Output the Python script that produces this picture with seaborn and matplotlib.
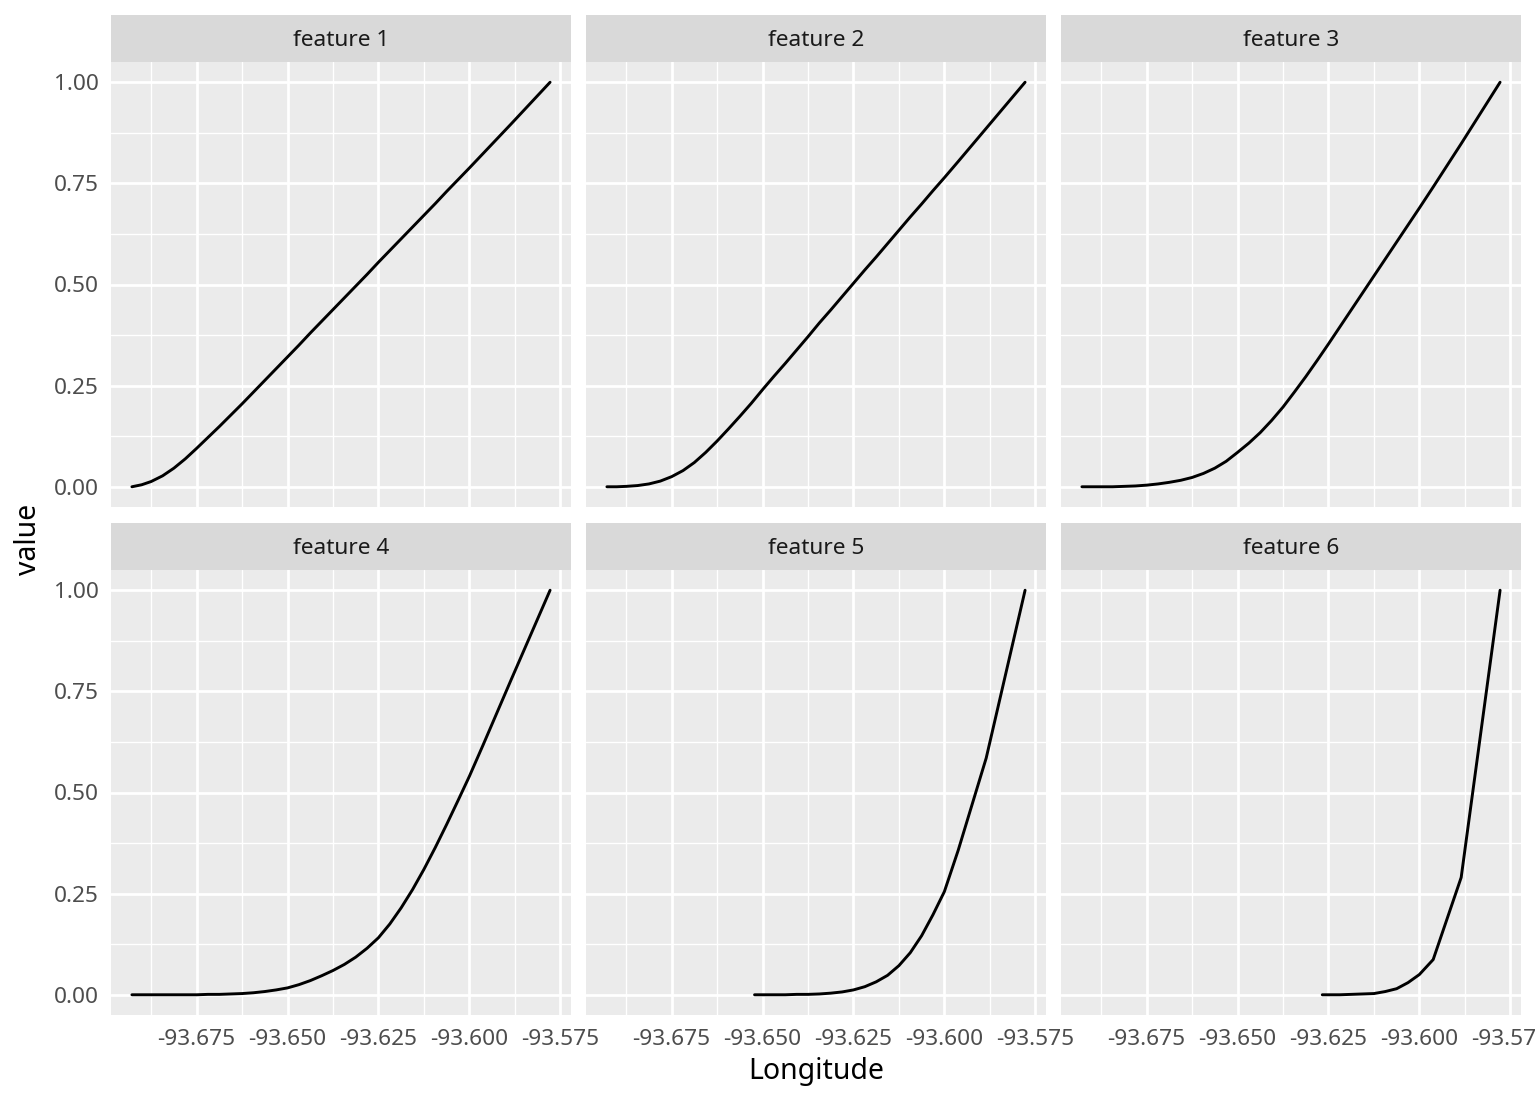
import pandas as pd
import seaborn as sns
import matplotlib
matplotlib.use("Agg")
import matplotlib.pyplot as plt
from matplotlib.patches import Rectangle

lon_main = [-93.6928, -93.6901, -93.6875, -93.684375, -93.68125, -93.678125, -93.675,
            -93.671875, -93.66875, -93.665625, -93.6625, -93.659375, -93.65625,
            -93.653125, -93.65, -93.646875, -93.64375, -93.640625, -93.6375,
            -93.634375, -93.63125, -93.628125, -93.625, -93.621875, -93.61875,
            -93.615625, -93.6125, -93.609375, -93.60625, -93.603125, -93.6,
            -93.5962, -93.5885, -93.5778]
lon_f5 = [-93.6522, -93.65, -93.646875, -93.64375, -93.640625, -93.6375,
          -93.634375, -93.63125, -93.628125, -93.625, -93.621875, -93.61875,
          -93.615625, -93.6125, -93.609375, -93.60625, -93.603125, -93.6,
          -93.5962, -93.5885, -93.5778]
lon_f6 = [-93.6267, -93.625, -93.621875, -93.61875, -93.615625, -93.6125,
          -93.609375, -93.60625, -93.603125, -93.6, -93.5962, -93.5885, -93.5778]

feature1 = [0, 0.005, 0.013, 0.027, 0.046, 0.069, 0.095, 0.122, 0.149, 0.177, 0.205,
            0.234, 0.263, 0.292, 0.321, 0.350, 0.380, 0.409, 0.438, 0.467, 0.496,
            0.525, 0.555, 0.584, 0.613, 0.642, 0.671, 0.700, 0.730, 0.759, 0.788,
            0.824, 0.897, 1.0]
feature2 = [0, 0.000, 0.001, 0.003, 0.007, 0.014, 0.025, 0.040, 0.060, 0.085, 0.113,
            0.143, 0.174, 0.206, 0.240, 0.273, 0.305, 0.338, 0.371, 0.405, 0.437,
            0.470, 0.503, 0.536, 0.568, 0.601, 0.634, 0.667, 0.699, 0.732, 0.764,
            0.804, 0.886, 1.0]
feature3 = [0, 0.000, 0.000, 0.000, 0.001, 0.002, 0.004, 0.007, 0.011, 0.016, 0.023,
            0.033, 0.046, 0.063, 0.085, 0.108, 0.134, 0.164, 0.197, 0.234, 0.272,
            0.312, 0.353, 0.395, 0.437, 0.479, 0.521, 0.563, 0.605, 0.647, 0.689,
            0.741, 0.848, 1.0]
feature4 = [0, 0.000, 0.000, 0.000, 0.000, 0.000, 0.000, 0.001, 0.001, 0.002, 0.003,
            0.005, 0.008, 0.012, 0.017, 0.025, 0.035, 0.047, 0.060, 0.075, 0.093,
            0.115, 0.141, 0.175, 0.215, 0.260, 0.310, 0.364, 0.421, 0.480, 0.540,
            0.618, 0.779, 1.0]
feature5 = [0, 0.000, 0.000, 0.000, 0.001, 0.001, 0.002, 0.004, 0.007, 0.012,
            0.020, 0.032, 0.048, 0.072, 0.104, 0.146, 0.198, 0.255, 0.357, 0.585, 1.0]
feature6 = [0, 0.000, 0.000, 0.001, 0.002, 0.003, 0.008, 0.015, 0.030, 0.050,
            0.087, 0.290, 1.0]

names = ["feature 1", "feature 2", "feature 3", "feature 4", "feature 5", "feature 6"]
series = [(lon_main, feature1), (lon_main, feature2), (lon_main, feature3),
          (lon_main, feature4), (lon_f5, feature5), (lon_f6, feature6)]

x_major = [-93.675, -93.650, -93.625, -93.600, -93.575]
x_minor = [-93.6875, -93.6625, -93.6375, -93.6125, -93.5875]
y_major = [0, 0.25, 0.5, 0.75, 1.0]
y_minor = [0.125, 0.375, 0.625, 0.875]

frames = []
for name, (xs, ys) in zip(names, series):
    frames.append(pd.DataFrame({"Longitude": xs, "value": ys, "feature": name}))
df = pd.concat(frames, ignore_index=True)

sns.set_theme(style="darkgrid", rc={"axes.facecolor": "#EBEBEB", "grid.color": "white"})
plt.rcParams["font.family"] = ["Noto Sans", "DejaVu Sans"]

g = sns.relplot(data=df, x="Longitude", y="value", col="feature", col_wrap=3,
                col_order=names, kind="line", color="black", linewidth=2.1,
                estimator=None, sort=False, height=4, aspect=1.1)
fig = g.figure
fig.set_size_inches(15.36, 11.04)
W, H = 1536, 1104

g.set_titles("")
g.set_axis_labels("", "")

xlim = (-93.69855, -93.57205)
lefts = [111, 586, 1061]
bottoms = [507, 1015]
pw, ph, sh = 460, 445, 47

for i, (ax, name) in enumerate(zip(g.axes.flat, names)):
    r, c = divmod(i, 3)
    ax.set_position([lefts[c] / W, 1 - bottoms[r] / H, pw / W, ph / H])
    ax.set_xlim(*xlim)
    ax.set_ylim(-0.05, 1.05)
    ax.set_xticks(x_major)
    ax.set_xticks(x_minor, minor=True)
    ax.set_yticks(y_major)
    ax.set_yticks(y_minor, minor=True)
    ax.grid(which="major", color="white", linewidth=2.0)
    ax.grid(which="minor", color="white", linewidth=1.0)
    for sp in ax.spines.values():
        sp.set_visible(False)
    ax.tick_params(which="minor", length=0)
    ax.tick_params(axis="both", which="major", colors="#333333", labelcolor="#4D4D4D",
                   labelsize=16.3, length=4.3, width=1.4)
    ax.tick_params(axis="x", pad=5.8)
    ax.tick_params(axis="y", pad=4.5)
    if r == 0:
        ax.tick_params(axis="x", length=0, labelbottom=False)
    else:
        ax.set_xticklabels(["-93.675", "-93.650", "-93.625", "-93.600", "-93.575"])
    if c > 0:
        ax.tick_params(axis="y", length=0, labelleft=False)
    else:
        ax.set_yticklabels(["0.00", "0.25", "0.50", "0.75", "1.00"])
    # facet strip
    ax.add_patch(Rectangle((0, 1), 1, sh / ph, transform=ax.transAxes,
                           facecolor="#D9D9D9", edgecolor="none", clip_on=False))
    ax.text(0.5, 1 + (sh / 2 - 2.5) / ph, name, transform=ax.transAxes, ha="center",
            va="center", fontsize=16.3, color="#1A1A1A")

fig.text(28 / W, 1 - 539 / H, "value", rotation=90, ha="center", va="center",
         fontsize=20.5, color="black")
fig.text(816 / W, 1 - 1072 / H, "Longitude", ha="center", va="center",
         fontsize=20.5, color="black")

fig.savefig("out.png", dpi=100, facecolor="white")
